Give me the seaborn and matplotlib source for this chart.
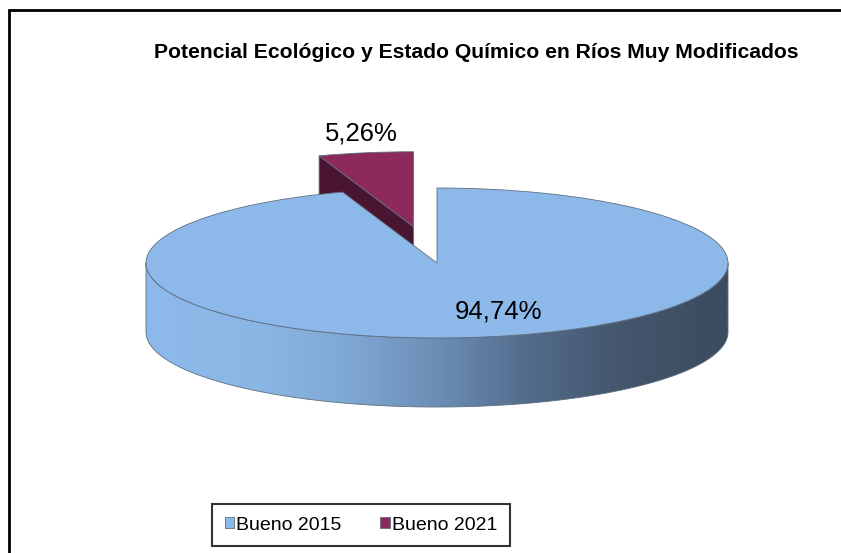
import numpy as np
import seaborn as sns
import matplotlib.pyplot as plt
from matplotlib.patches import Polygon, Rectangle
from matplotlib.colors import LinearSegmentedColormap

# data
categories = ["Bueno 2015", "Bueno 2021"]
values = [94.74, 5.26]
title = "Potencial Ecológico y Estado Químico en Ríos Muy Modificados"

sns.set_theme(style="white")
plt.rcParams['font.family'] = ['Liberation Sans', 'DejaVu Sans']
plt.rcParams['text.color'] = 'black'

W, H = 841, 553
fig = plt.figure(figsize=(W / 100, H / 100), dpi=100)
ax = fig.add_axes([0, 0, 1, 1])

# pie centre and radii in pixels, wall height in data units
cx, cy, rx, ry = 437, 263, 291, 75
depth = 69 / ry

top_colors = ['#8DB9EA', '#8C2B5B']
side_dark = '#4A1530'
edge = '#5E6E80'

wedges, _ = ax.pie(values, colors=top_colors, startangle=90, counterclock=False,
                   explode=[0, 0.49], radius=1, center=(0, 0), frame=True,
                   wedgeprops=dict(edgecolor=edge, linewidth=0.6))
wedges[0].set_zorder(4)
wedges[1].set_zorder(2)

# side face of the exploded slice (radial edge facing the viewer)
tx, ty = wedges[1].center
a = np.deg2rad(wedges[1].theta2)
ex, ey = tx + np.cos(a), ty + np.sin(a)
dark = Polygon([(tx, ty), (ex, ey), (ex, ey - depth), (tx, ty - depth)],
               closed=True, facecolor=side_dark, edgecolor=edge, lw=0.6, zorder=1)
ax.add_patch(dark)

# front wall of the big slice with a shaded gradient
t = np.linspace(np.pi, 2 * np.pi, 300)
top_arc = np.column_stack([np.cos(t), np.sin(t)])
bot_arc = np.column_stack([np.cos(t[::-1]), np.sin(t[::-1]) - depth])
wall = Polygon(np.vstack([top_arc, bot_arc]), closed=True, facecolor='none',
               edgecolor=edge, lw=0.6, zorder=3)
ax.add_patch(wall)
wall_cmap = LinearSegmentedColormap.from_list('wall', [
    (0.0, '#8DBAEA'), (0.2, '#8AB6E5'), (0.35, '#7FA7D3'), (0.5, '#6C8EB6'),
    (0.65, '#546D8C'), (0.8, '#45586F'), (1.0, '#3C4B5E')])
grad = np.linspace(0, 1, 256).reshape(1, -1)
im = ax.imshow(grad, cmap=wall_cmap, extent=(-1, 1, -1 - depth, 0),
               aspect='auto', zorder=2.5, interpolation='bilinear')
im.set_clip_path(wall)

ax.set_aspect('auto')
ax.set_xlim(-cx / rx, (W - cx) / rx)
ax.set_ylim((cy - H) / ry, cy / ry)
ax.axis('off')

# percentage labels
label_px = [(499, 311), (361, 133)]
total = sum(values)
for v, (px, py) in zip(values, label_px):
    txt = f"{100 * v / total:.2f}%".replace('.', ',')
    ax.text((px - cx) / rx, (cy - py) / ry, txt, fontsize=18.5,
            ha='center', va='center', color='black', zorder=6)

fig.text(476 / W, 1 - 53 / H, title, fontsize=15.2, fontweight='bold',
         ha='center', va='center', color='black')

leg = fig.legend(wedges, categories, loc='center', bbox_to_anchor=(361 / W, 1 - 525 / H),
                 ncol=2, fontsize=14, frameon=True, fancybox=False, edgecolor='black',
                 handlelength=0.5, handleheight=0.5, handletextpad=0.1,
                 columnspacing=2.0, borderpad=0.65)
leg.get_frame().set_linewidth(1.5)

# chart area border (runs off the right and bottom)
fig.add_artist(Rectangle((8.5 / W, -0.1), 2, 1.1 - 10 / H, transform=fig.transFigure,
                         fill=False, lw=2, edgecolor='black'))

fig.savefig('out.png', dpi=100)
